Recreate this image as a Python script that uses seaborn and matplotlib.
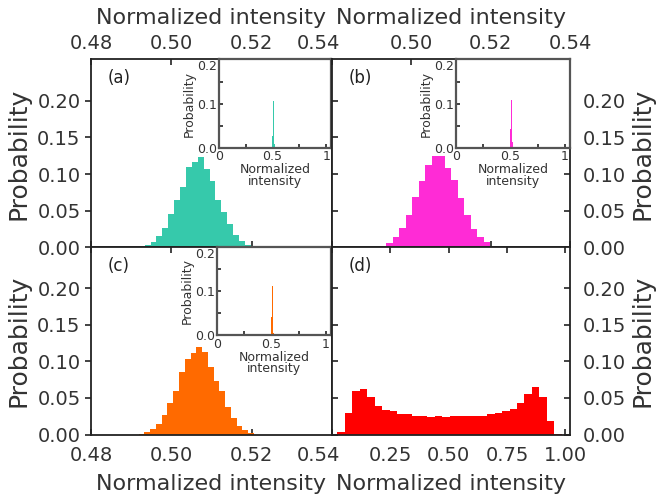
import numpy as np
import pandas as pd
import matplotlib
matplotlib.use("Agg")
import matplotlib.pyplot as plt
import matplotlib.transforms as mtransforms
import seaborn as sns
from matplotlib.ticker import FixedLocator

sns.set_theme(style="ticks")
plt.rcParams['font.family'] = ['DejaVu Sans']
plt.rcParams['text.color'] = '#333333'
plt.rcParams['axes.labelcolor'] = '#333333'
plt.rcParams['xtick.color'] = '#222222'
plt.rcParams['ytick.color'] = '#222222'

# ---------------- data (probability per bin, bin range) ----------------
a_probs = [0.0005, 0.0013, 0.003, 0.0076, 0.0156, 0.027, 0.046, 0.064, 0.083, 0.109,
           0.116, 0.123, 0.107, 0.090, 0.064, 0.049, 0.032, 0.0165, 0.009, 0.0036, 0.0008]
a_range = (0.49041, 0.52126)

b_probs = [0.001, 0.002, 0.0067, 0.0143, 0.026, 0.044, 0.069, 0.090, 0.112, 0.124,
           0.125, 0.108, 0.092, 0.068, 0.044, 0.025, 0.014, 0.0076, 0.002]
b_range = (0.49042, 0.5215)

c_probs = [0.0013, 0.004, 0.007, 0.015, 0.027, 0.043, 0.060, 0.085, 0.104, 0.112,
           0.120, 0.113, 0.092, 0.073, 0.060, 0.037, 0.022, 0.011, 0.0067, 0.002]
c_range = (0.49188, 0.52054)

d_probs = [0.0032, 0.030, 0.059, 0.062, 0.051, 0.039, 0.033, 0.032, 0.028, 0.028,
           0.026, 0.025, 0.024, 0.025, 0.024, 0.025, 0.025, 0.025, 0.026, 0.026,
           0.028, 0.029, 0.032, 0.035, 0.043, 0.055, 0.065, 0.051, 0.018, 0.001]
d_range = (0.0229, 0.9854)

panel_labels = ["(a)", "(b)", "(c)", "(d)"]
colors = ["#36C9AB", "#FF2BD6", "#FF6A00", "#FF0000"]
narrow_ticks = [0.48, 0.50, 0.52, 0.54]
wide_ticks = [0.00, 0.25, 0.50, 0.75, 1.00]
y_ticks = [0.00, 0.05, 0.10, 0.15, 0.20]
inset_xticks = [0, 0.5, 1]
inset_yticks = [0.0, 0.1, 0.2]
xlabel = "Normalized intensity"
ylabel = "Probability"

W, H = 659, 498
fig = plt.figure(figsize=(W / 100, H / 100), dpi=100)


def px_axes(x0, y0, x1, y1):
    return fig.add_axes([x0 / W, 1 - y1 / H, (x1 - x0) / W, (y1 - y0) / H])


def hist(ax, probs, rng, color):
    n = len(probs)
    width = (rng[1] - rng[0]) / n
    centers = rng[0] + width * (np.arange(n) + 0.5)
    df = pd.DataFrame({"x": centers, "p": probs})
    sns.histplot(data=df, x="x", weights="p", bins=n, binrange=rng, ax=ax,
                 color=color, alpha=1, linewidth=0, stat="count")


def style_main(ax):
    for s in ax.spines.values():
        s.set_color("#222222")
        s.set_linewidth(1.3)
        s.set_visible(True)
    ax.set_ylim(0, 0.256)
    ax.yaxis.set_major_locator(FixedLocator(y_ticks))
    ax.set_xlabel("")
    ax.set_ylabel("")


def add_inset(ax, rect, probs, rng, color):
    ins = ax.inset_axes(rect)
    hist(ins, probs, rng, color)
    ins.set_xlim(0, 1.045)
    ins.set_ylim(0, 0.2)
    ins.xaxis.set_major_locator(FixedLocator(inset_xticks))
    ins.xaxis.set_minor_locator(FixedLocator([0.25, 0.75]))
    ins.yaxis.set_major_locator(FixedLocator(inset_yticks))
    ins.yaxis.set_minor_locator(FixedLocator([0.05, 0.15]))
    ins.set_xticklabels(["0", "0.5", "1"])
    ins.set_yticklabels(["0.0", "0.1", "0.2"])
    ins.tick_params(which="both", direction="in", length=3, width=1.2, labelsize=9,
                    pad=1.5, colors="#222222", labelcolor="#333333")
    for s in ins.spines.values():
        s.set_color("#555555")
        s.set_linewidth(1.6)
    ins.set_xlabel("Normalized\nintensity", fontsize=9, labelpad=0, linespacing=0.85)
    ins.set_ylabel(ylabel, fontsize=9, labelpad=1)
    lbls = ins.get_yticklabels()
    lbls[-1].set_verticalalignment("top")
    return ins


def shift_label(label, dx_px):
    label.set_transform(label.get_transform() +
                        mtransforms.ScaledTranslation(dx_px / 100, 0, fig.dpi_scale_trans))


# panel geometry in pixels
xl0, xm, xr1 = 91, 332, 570
yt0, ym, yb1 = 59.5, 247.5, 434.5

ax_a = px_axes(xl0, yt0, xm, ym)
ax_b = px_axes(xm, yt0, xr1, ym)
ax_c = px_axes(xl0, ym, xm, yb1)
ax_d = px_axes(xm, ym, xr1, yb1)

hist(ax_a, a_probs, a_range, colors[0])
hist(ax_b, b_probs, b_range, colors[1])
hist(ax_c, c_probs, c_range, colors[2])
hist(ax_d, d_probs, d_range, colors[3])

for ax in (ax_a, ax_b, ax_c, ax_d):
    style_main(ax)

for ax in (ax_a, ax_b, ax_c):
    ax.set_xlim(0.48, 0.54)
    ax.xaxis.set_major_locator(FixedLocator(narrow_ticks))
ax_d.set_xlim(0, 1.02)
ax_d.xaxis.set_major_locator(FixedLocator(wide_ticks))

tick_kw = dict(length=4, width=1.2, labelsize=14, labelcolor="#333333")

# (a) top labels, left labels
ax_a.tick_params(axis="x", direction="in", top=True, bottom=True,
                 labeltop=True, labelbottom=False, pad=5, **tick_kw)
ax_a.tick_params(axis="y", direction="out", left=True, right=False, labelleft=True,
                 labelright=False, pad=3.5, **tick_kw)
ax_a.set_xticklabels(["0.48", "0.50", "0.52", "0.54"])
ax_a.xaxis.set_label_position("top")
ax_a.set_xlabel(xlabel, fontsize=16, labelpad=7)
ax_a.set_ylabel(ylabel, fontsize=18, labelpad=5)

# (b) top labels, right labels
ax_b.tick_params(axis="x", direction="in", top=True, bottom=True,
                 labeltop=True, labelbottom=False, pad=5, **tick_kw)
ax_b.set_xticklabels(["", "0.50", "0.52", "0.54"])
ax_b.tick_params(axis="y", direction="in", left=True, right=True, labelleft=False,
                 labelright=True, pad=9.5, **tick_kw)
ax_b.xaxis.set_label_position("top")
ax_b.set_xlabel(xlabel, fontsize=16, labelpad=7)
ax_b.yaxis.set_label_position("right")
ax_b.set_ylabel(ylabel, fontsize=18, labelpad=3)

# (c) bottom labels, left labels
ax_c.tick_params(axis="x", direction="in", top=True, bottom=True, labeltop=False,
                 labelbottom=True, pad=8, **tick_kw)
ax_c.set_xticklabels(["0.48", "0.50", "0.52", "0.54"])
ax_c.tick_params(axis="y", direction="out", left=True, labelleft=True, pad=3.5, **tick_kw)
ax_c.set_xlabel(xlabel, fontsize=16, labelpad=7)
ax_c.set_ylabel(ylabel, fontsize=18, labelpad=5)

# (d) bottom labels, right labels
ax_d.tick_params(axis="x", direction="in", top=True, bottom=True, labeltop=False,
                 labelbottom=True, pad=8, **tick_kw)
ax_d.set_xticklabels(["", "0.25", "0.50", "0.75", "1.00"])
ax_d.tick_params(axis="y", direction="in", left=True, right=True, labelleft=False,
                 labelright=True, pad=9.5, **tick_kw)
ax_d.set_xlabel(xlabel, fontsize=16, labelpad=7)
ax_d.yaxis.set_label_position("right")
ax_d.set_ylabel(ylabel, fontsize=18, labelpad=3)

# shift the crowded 0.54 labels left, as in the reference
shift_label(ax_c.get_xticklabels()[-1], -14)
shift_label(ax_a.get_xticklabels()[-1], -14)

# insets
add_inset(ax_a, [128 / 241, 1 - 88.5 / 188, 112 / 241, 88.5 / 188], a_probs, a_range, colors[0])
add_inset(ax_b, [124 / 238, 1 - 88.5 / 188, 114 / 238, 88.5 / 188], b_probs, b_range, colors[1])
add_inset(ax_c, [126 / 241, 1 - 88 / 187, 114 / 241, 88 / 187], c_probs, c_range, colors[2])

# panel letters
for ax, lab in zip((ax_a, ax_b, ax_c, ax_d), panel_labels):
    ax.text(0.07, 0.9, lab, transform=ax.transAxes, fontsize=12, color="#222222",
            ha="left", va="center")

fig.savefig("out.png", dpi=100)
